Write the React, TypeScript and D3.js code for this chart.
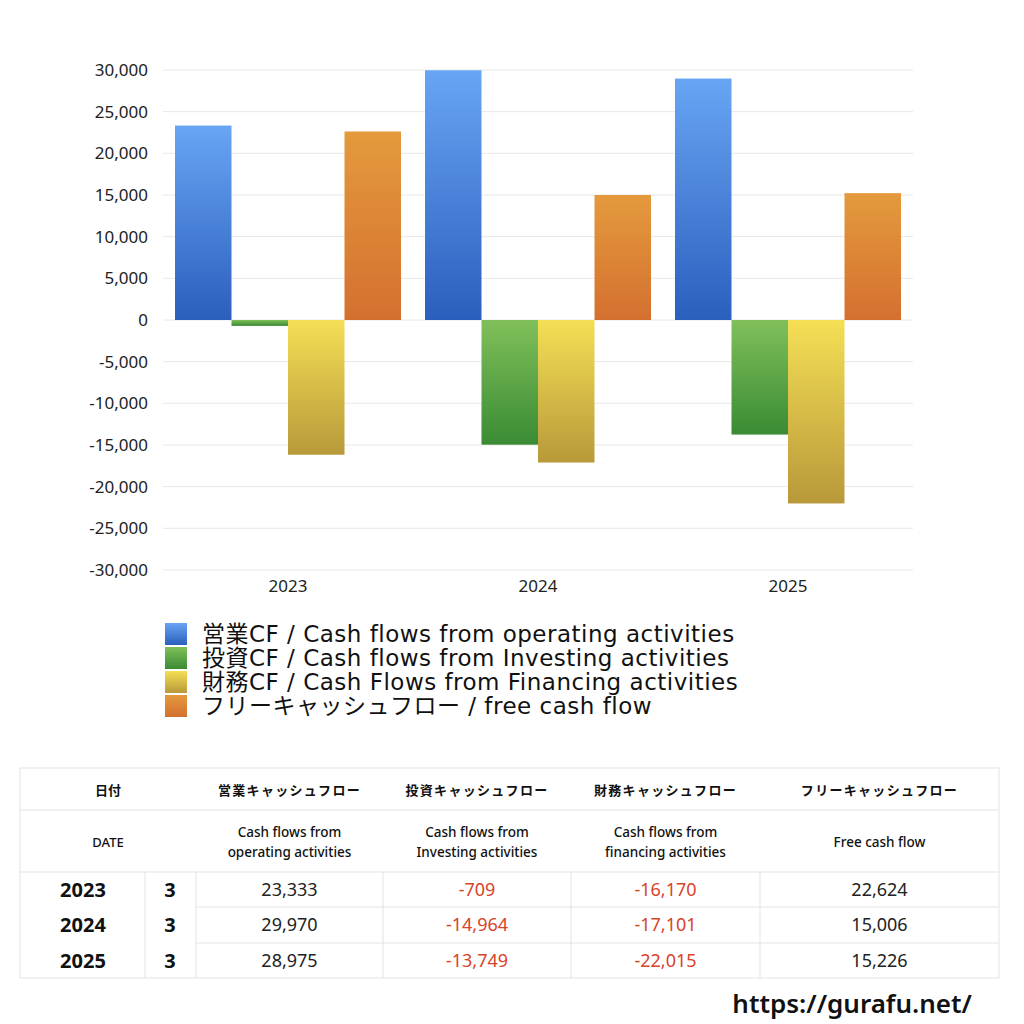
import React from 'react';
import * as d3 from 'd3';

const years = ['2023', '2024', '2025'];
const months = ['3', '3', '3'];
const operatingCF = [23333, 29970, 28975];
const investingCF = [-709, -14964, -13749];
const financingCF = [-16170, -17101, -22015];
const freeCF = [22624, 15006, 15226];

const seriesLabels = [
  '営業CF / Cash flows from operating activities',
  '投資CF / Cash flows from Investing activities',
  '財務CF / Cash Flows from Financing activities',
  'フリーキャッシュフロー / free cash flow',
];
const seriesColors: [string, string][] = [
  ['#68a5f4', '#2b5fbd'],
  ['#80c05a', '#3a8b34'],
  ['#f5df55', '#b8993a'],
  ['#e49a3d', '#d4702f'],
];
const yTicks = [30000, 25000, 20000, 15000, 10000, 5000, 0, -5000, -10000, -15000, -20000, -25000, -30000];

const tableHeadJa = ['営業キャッシュフロー', '投資キャッシュフロー', '財務キャッシュフロー', 'フリーキャッシュフロー'];
const tableHeadEn = [
  ['Cash flows from', 'operating activities'],
  ['Cash flows from', 'Investing activities'],
  ['Cash flows from', 'financing activities'],
  ['Free cash flow'],
];

const FONT = '"Noto Sans", "Noto Sans CJK JP", sans-serif';
const WIDE = '"DejaVu Sans", "Noto Sans CJK JP", sans-serif';

const App: React.FC = () => {
  const series = [operatingCF, investingCF, financingCF, freeCF];
  const y = d3.scaleLinear().domain([-30000, 30000]).range([570, 70]);
  const x0 = d3.scaleBand().domain(years).range([163, 913]);
  const x1 = d3.scaleBand().domain(['0', '1', '2', '3']).range([12, 238]);
  const comma = d3.format(',');
  const fmt = (v: number) => comma(v).replace('\u2212', '-');

  // table geometry
  const colX = [20, 145, 196, 383, 571, 760, 999];
  const rowY = [768, 810, 872, 907, 943, 978];
  const line = '#e3e3e3';

  return (
    <svg width={1024} height={1024} style={{ position: 'absolute', left: 0, top: 0, background: '#fff' }} fontFamily={FONT}>
      <defs>
        {seriesColors.map((c, i) => (
          <linearGradient key={i} id={`g${i}`} x1="0" y1="0" x2="0" y2="1">
            <stop offset="0%" stopColor={c[0]} />
            <stop offset="100%" stopColor={c[1]} />
          </linearGradient>
        ))}
      </defs>

      {/* grid + y labels */}
      {yTicks.map((t) => (
        <g key={t}>
          <line x1={163} x2={913} y1={y(t)} y2={y(t)} stroke="#e8e8e8" strokeWidth={1} />
          <text x={148} y={y(t)} dy="0.35em" textAnchor="end" fontSize={17} fill="#222">
            {fmt(t)}
          </text>
        </g>
      ))}

      {/* bars */}
      {years.map((yr, yi) => (
        <g key={yr} transform={`translate(${x0(yr)},0)`}>
          {series.map((s, si) => {
            const v = s[yi];
            return (
              <rect
                key={si}
                x={x1(String(si))}
                width={x1.bandwidth()}
                y={Math.min(y(v), y(0))}
                height={Math.abs(y(v) - y(0))}
                fill={`url(#g${si})`}
              />
            );
          })}
          <text x={x0.bandwidth() / 2} y={586} dy="0.35em" textAnchor="middle" fontSize={17} fill="#222">
            {yr}
          </text>
        </g>
      ))}

      {/* legend */}
      {seriesLabels.map((l, i) => (
        <g key={l} transform={`translate(165,${623 + i * 24})`}>
          <rect width={22} height={22} fill={`url(#g${i})`} />
          <text x={37} y={11} dy="0.36em" fontSize={23} fill="#111" fontFamily={WIDE} letterSpacing={0.5}>
            {l}
          </text>
        </g>
      ))}

      {/* table */}
      <g>
        <rect x={20} y={768} width={979} height={210} fill="none" stroke={line} />
        <line x1={20} x2={999} y1={rowY[1]} y2={rowY[1]} stroke={line} />
        <line x1={20} x2={999} y1={rowY[2]} y2={rowY[2]} stroke={line} />
        <line x1={196} x2={999} y1={rowY[3]} y2={rowY[3]} stroke={line} />
        <line x1={196} x2={999} y1={rowY[4]} y2={rowY[4]} stroke={line} />
        {[1, 2, 3, 4, 5].map((ci) => (
          <line key={ci} x1={colX[ci]} x2={colX[ci]} y1={rowY[2]} y2={rowY[5]} stroke={line} />
        ))}
        <text x={108} y={790} dy="0.35em" textAnchor="middle" fontSize={13} fontWeight="bold" fill="#111">日付</text>
        <text x={108} y={842} dy="0.35em" textAnchor="middle" fontSize={13} fill="#111" fontWeight={500}>DATE</text>
        {tableHeadJa.map((h, i) => (
          <text key={h} x={(colX[i + 2] + colX[i + 3]) / 2} y={790} dy="0.35em" textAnchor="middle" fontSize={13} fontWeight="bold" fill="#111" letterSpacing={1.3}>
            {h}
          </text>
        ))}
        {tableHeadEn.map((lines, i) => (
          <text key={i} x={(colX[i + 2] + colX[i + 3]) / 2} y={lines.length > 1 ? 832 : 842} textAnchor="middle" fontSize={13.5} fill="#111" fontWeight={500}>
            {lines.map((t, k) => (
              <tspan key={k} x={(colX[i + 2] + colX[i + 3]) / 2} dy={k === 0 ? '0.35em' : 20}>
                {t}
              </tspan>
            ))}
          </text>
        ))}
        {years.map((yr, ri) => {
          const cy = (rowY[ri + 2] + rowY[ri + 3]) / 2;
          return (
            <g key={yr}>
              <text x={83} y={cy} dy="0.35em" textAnchor="middle" fontSize={20} fontWeight="bold" fill="#111">{yr}</text>
              <text x={170} y={cy} dy="0.35em" textAnchor="middle" fontSize={20} fontWeight="bold" fill="#111">{months[ri]}</text>
              {series.map((s, si) => (
                <text key={si} x={(colX[si + 2] + colX[si + 3]) / 2} y={cy} dy="0.35em" textAnchor="middle" fontSize={18} fill={s[ri] < 0 ? '#d8432a' : '#222'}>
                  {fmt(s[ri])}
                </text>
              ))}
            </g>
          );
        })}
      </g>

      <text x={972} y={1004} dy="0.35em" textAnchor="end" fontSize={26} fontWeight={600} fill="#111">
        https://gurafu.net/
      </text>
    </svg>
  );
};

export default App;
